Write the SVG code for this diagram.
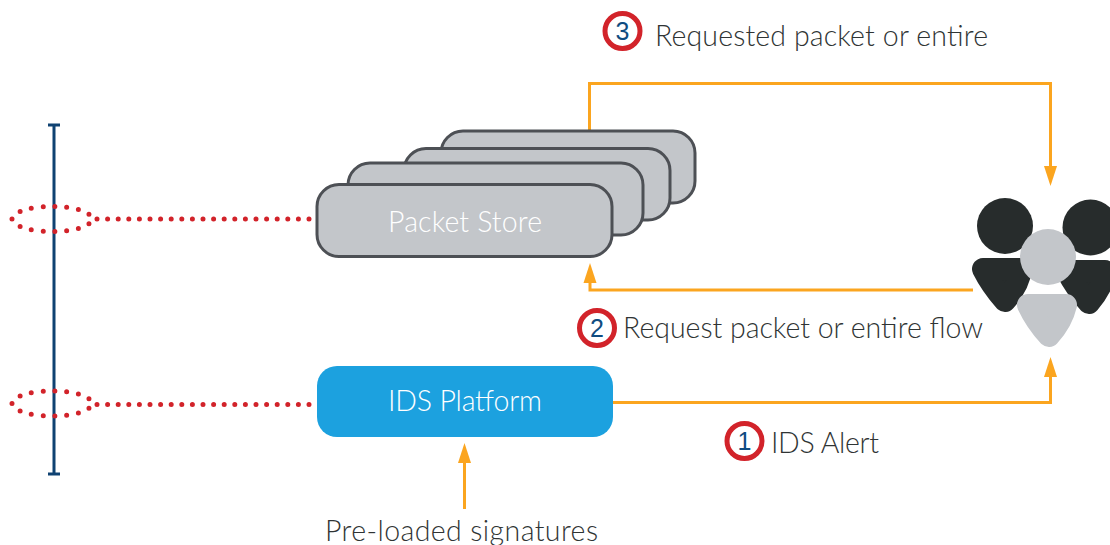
<svg xmlns="http://www.w3.org/2000/svg" width="1110" height="545" viewBox="0 0 1110 545">
<style>
.t{font-family:"Lato","Open Sans","Liberation Sans",sans-serif;font-weight:300;font-size:28.500px;fill:#2f3434}
.w{font-family:"Lato","Open Sans","Liberation Sans",sans-serif;font-weight:300;font-size:28.500px;fill:#fff;text-anchor:middle}
.n{font-family:"Liberation Sans",sans-serif;font-size:25px;fill:#0f4c81;text-anchor:middle}
.store{fill:#c3c6ca;stroke:#4d5055;stroke-width:3}
.c{fill:none;stroke:#fba51f;stroke-width:3}
.dot{fill:none;stroke:#d2232a;stroke-width:5;stroke-linecap:round}
.badge{fill:#fff;stroke:#d2232a;stroke-width:5}
.dark{fill:#272c2c;stroke:#272c2c;stroke-width:22;stroke-linejoin:round}
.light{fill:#c3c6ca;stroke:#c3c6ca;stroke-width:22;stroke-linejoin:round}
.head{fill:#272c2c}
.hl{fill:#c3c6ca}
.arr{fill:#fba51f}
</style>
<g id="tap-line"><path d="M54 125V474M48 125H60M48 474H60" fill="none" stroke="#0f4272" stroke-width="3"/></g>
<g id="connectors">
<path class="c" d="M589.500 130V83.500H1050.500V167"/>
<path class="arr" d="M1044 166H1057L1050.500 186Z"/>
<path class="c" d="M973 290H590V282"/>
<path class="arr" d="M583.500 283H596.500L590 263Z"/>
<path class="c" d="M612 402.500H1050.500V376"/>
<path class="arr" d="M1044 377H1057L1050.500 357Z"/>
<path class="c" d="M464.500 509V462"/>
<path class="arr" d="M458 463H471L464.500 443Z"/>
</g>
<g id="tap-top">
<path class="dot" d="M12 219A40 12.500 0 0 1 92 219A40 12.500 0 0 1 12 219Z" pathLength="15" stroke-dasharray="0 1"/>
<path class="dot" d="M97 219H312" stroke-dasharray="0 10.600"/>
</g>
<g id="tap-bottom">
<path class="dot" d="M12 403.500A40 12.500 0 0 1 92 403.500A40 12.500 0 0 1 12 403.500Z" pathLength="15" stroke-dasharray="0 1"/>
<path class="dot" d="M97 404.500H312" stroke-dasharray="0 10.600"/>
</g>
<g id="packet-store">
<rect class="store" x="441" y="131" width="254" height="72" rx="22"/>
<rect class="store" x="404" y="148.500" width="266" height="71.500" rx="22"/>
<rect class="store" x="348" y="163" width="295" height="72" rx="22"/>
<rect class="store" x="317" y="184.500" width="295" height="72" rx="22"/>
<text class="w" x="465" y="232" textLength="154">Packet Store</text>
</g>
<g id="ids-platform">
<rect x="317" y="366" width="296" height="71" rx="20" fill="#1ca1df"/>
<text class="w" x="465" y="411" textLength="154">IDS Platform</text>
</g>
<g id="users">
<circle class="head" cx="1005" cy="226" r="28"/>
<circle class="head" cx="1090.500" cy="227.500" r="28"/>
<path class="dark" d="M983 269H1021Q1019 285 1005 301Q991 285 983 269Z"/>
<path class="dark" d="M1067 271H1105Q1103 287 1089 303Q1075 287 1067 271Z"/>
<circle class="hl" cx="1048" cy="257" r="28"/>
<path class="light" d="M1028 305H1066Q1062 322 1049 336Q1036 322 1028 305Z"/>
</g>
<g id="label-3">
<circle class="badge" cx="622.500" cy="31" r="17.500"/>
<text class="n" x="622.500" y="40">3</text>
<text class="t" x="655" y="46" textLength="333">Requested packet or entire</text>
</g>
<g id="label-2">
<circle class="badge" cx="597" cy="328" r="17.500"/>
<text class="n" x="597" y="337">2</text>
<text class="t" x="623" y="338" textLength="360">Request packet or entire flow</text>
</g>
<g id="label-1">
<circle class="badge" cx="744.500" cy="441" r="17.500"/>
<text class="n" x="744.500" y="450">1</text>
<text class="t" x="771" y="453" textLength="108">IDS Alert</text>
</g>
<g id="label-signatures">
<text class="t" x="325" y="541" textLength="273">Pre-loaded signatures</text>
</g>
</svg>
